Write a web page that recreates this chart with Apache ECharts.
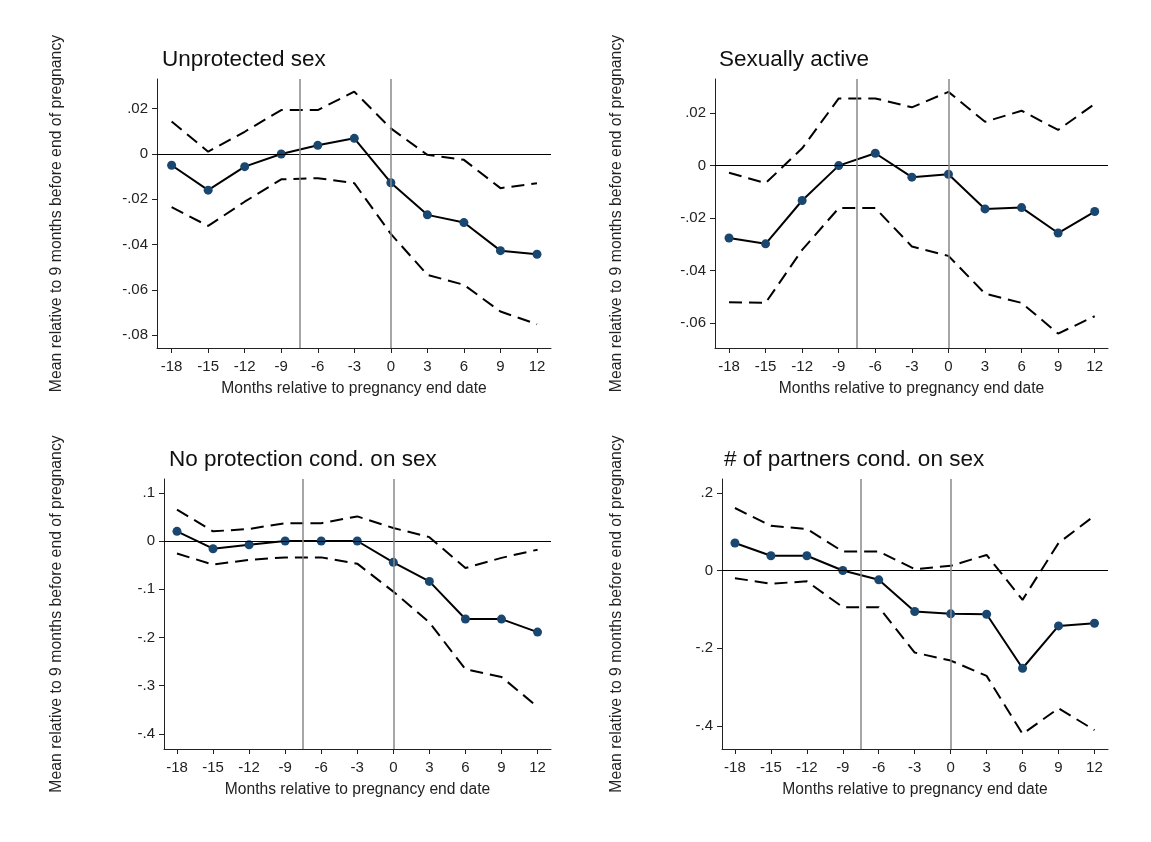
<!DOCTYPE html>
<html>
<head>
<meta charset="utf-8">
<script src="https://cdn.jsdelivr.net/npm/echarts@6/dist/echarts.min.js"></script>
<style>
  html, body { margin: 0; padding: 0; background: #fff; }
  #chart { width: 1151px; height: 842px; }
</style>
</head>
<body>
<div id="chart"></div>
<script>
const months = [-18, -15, -12, -9, -6, -3, 0, 3, 6, 9, 12];
const eventLines = [-7.5, 0];

// Unprotected sex
const unprotMean  = [-0.005, -0.016, -0.0056, 0, 0.0038, 0.0069, -0.0127, -0.0269, -0.0303, -0.0427, -0.0443];
const unprotUpper = [0.0143, 0.001, 0.0098, 0.0194, 0.0194, 0.0275, 0.0113, -0.0004, -0.0026, -0.0151, -0.0129];
const unprotLower = [-0.0235, -0.0318, -0.0211, -0.0112, -0.0107, -0.0129, -0.0353, -0.0534, -0.0578, -0.0696, -0.0752];
const unprotTicks = [-0.08, -0.06, -0.04, -0.02, 0, 0.02];

// Sexually active
const activeMean  = [-0.0276, -0.0298, -0.0133, 0, 0.0047, -0.0044, -0.0033, -0.0165, -0.016, -0.0257, -0.0175];
const activeUpper = [-0.0027, -0.0067, 0.0066, 0.0256, 0.0256, 0.0222, 0.0281, 0.0167, 0.0209, 0.0136, 0.0235];
const activeLower = [-0.0521, -0.0523, -0.0321, -0.0162, -0.0162, -0.0308, -0.0344, -0.0488, -0.0523, -0.064, -0.0574];
const activeTicks = [-0.06, -0.04, -0.02, 0, 0.02];

// No protection cond. on sex
const noprotMean  = [0.02, -0.016, -0.0077, 0, 0, 0, -0.0443, -0.0838, -0.1618, -0.162, -0.189];
const noprotUpper = [0.065, 0.02, 0.025, 0.037, 0.037, 0.051, 0.027, 0.008, -0.056, -0.035, -0.018];
const noprotLower = [-0.026, -0.049, -0.039, -0.034, -0.034, -0.047, -0.105, -0.169, -0.266, -0.282, -0.344];
const noprotTicks = [-0.4, -0.3, -0.2, -0.1, 0, 0.1];

// # of partners cond. on sex
const partnersMean  = [0.0707, 0.038, 0.038, 0, -0.024, -0.1057, -0.1117, -0.1126, -0.2518, -0.1427, -0.1358];
const partnersUpper = [0.161, 0.115, 0.107, 0.049, 0.049, 0.0034, 0.012, 0.040, -0.0756, 0.0707, 0.141];
const partnersLower = [-0.0197, -0.034, -0.028, -0.0945, -0.0945, -0.2114, -0.232, -0.2715, -0.421, -0.355, -0.411];
const partnersTicks = [-0.4, -0.2, 0, 0.2];

const panels = [
    { title: 'Unprotected sex', mean: unprotMean, upper: unprotUpper, lower: unprotLower, ticks: unprotTicks,
      grid: { left: 157, top: 79, width: 394, height: 269 }, yMin: -0.0857, yMax: 0.0331, xMin: -19.2, xMax: 13.15,
      titlePos: { left: 162, top: 48 }, yGap: 92 },
    { title: 'Sexually active', mean: activeMean, upper: activeUpper, lower: activeLower, ticks: activeTicks,
      grid: { left: 715, top: 79, width: 393, height: 269 }, yMin: -0.0695, yMax: 0.033, xMin: -19.15, xMax: 13.09,
      titlePos: { left: 719, top: 48 }, yGap: 90 },
    { title: 'No protection cond. on sex', mean: noprotMean, upper: noprotUpper, lower: noprotLower, ticks: noprotTicks,
      grid: { left: 164, top: 479, width: 387, height: 270 }, yMin: -0.4315, yMax: 0.1286, xMin: -19.08, xMax: 13.12,
      titlePos: { left: 169, top: 448 }, yGap: 99 },
    { title: '# of partners cond. on sex', mean: partnersMean, upper: partnersUpper, lower: partnersLower, ticks: partnersTicks,
      grid: { left: 722, top: 479, width: 386, height: 270 }, yMin: -0.4598, yMax: 0.2357, xMin: -19.08, xMax: 13.13,
      titlePos: { left: 724, top: 448 }, yGap: 97 }
];

const font = '"Liberation Sans", Arial, sans-serif';
const fmt = v => v === 0 ? '0' : String(+v.toFixed(3)).replace('0.', '.');
const pairs = arr => months.map((m, i) => [m, arr[i]]);

const chart = echarts.init(document.getElementById('chart'), null, { renderer: 'canvas' });

const option = {
    backgroundColor: '#fff',
    animation: false,
    textStyle: { fontFamily: font },
    title: panels.map(p => ({
        text: p.title, left: p.titlePos.left, top: p.titlePos.top, padding: 0,
        textStyle: { fontFamily: font, fontSize: 22.5, fontWeight: 'normal', color: '#111' }
    })),
    grid: panels.map(p => p.grid),
    xAxis: panels.map((p, i) => ({
        type: 'value', gridIndex: i, min: p.xMin, max: p.xMax,
        name: 'Months relative to pregnancy end date', nameLocation: 'middle', nameGap: 33,
        nameTextStyle: { fontFamily: font, fontSize: 15.6, color: '#222' },
        axisLine: { onZero: false, lineStyle: { color: '#222', width: 1 } }, splitLine: { show: false },
        axisTick: { customValues: months, length: 5, lineStyle: { color: '#222' } },
        axisLabel: { customValues: months, fontFamily: font, fontSize: 15, color: '#222', margin: 11 }
    })),
    yAxis: panels.map((p, i) => ({
        type: 'value', gridIndex: i, min: p.yMin, max: p.yMax,
        name: 'Mean relative to 9 months before end of pregnancy', nameLocation: 'middle', nameGap: p.yGap,
        nameRotate: 90,
        nameTextStyle: { fontFamily: font, fontSize: 15.8, color: '#222' },
        axisLine: { show: true, onZero: false, lineStyle: { color: '#222', width: 1 } }, splitLine: { show: false },
        axisTick: { customValues: p.ticks, length: 5, lineStyle: { color: '#222' } },
        axisLabel: { customValues: p.ticks, formatter: fmt, fontFamily: font, fontSize: 15, color: '#222', margin: 9 }
    })),
    series: panels.flatMap((p, i) => [
        {
            type: 'line', xAxisIndex: i, yAxisIndex: i, data: pairs(p.upper),
            symbol: 'none', lineStyle: { color: '#000', width: 2, type: [13, 7] }, z: 3
        },
        {
            type: 'line', xAxisIndex: i, yAxisIndex: i, data: pairs(p.lower),
            symbol: 'none', lineStyle: { color: '#000', width: 2, type: [13, 7] }, z: 3
        },
        {
            type: 'line', xAxisIndex: i, yAxisIndex: i, data: pairs(p.mean),
            symbol: 'circle', symbolSize: 9,
            itemStyle: { color: '#1a476f' },
            lineStyle: { color: '#000', width: 2 }, z: 4,
            markLine: {
                silent: true, symbol: 'none', animation: false,
                label: { show: false },
                data: [
                    { yAxis: 0, lineStyle: { color: '#000', width: 1.2, type: 'solid' } },
                    ...eventLines.map(x => ({ xAxis: x, lineStyle: { color: '#888', width: 1.5, type: 'solid' } }))
                ]
            }
        }
    ])
};

chart.setOption(option);
</script>
</body>
</html>
